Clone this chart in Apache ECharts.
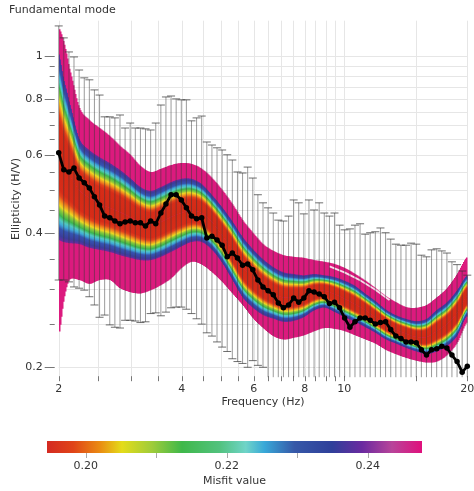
<!DOCTYPE html>
<html><head><meta charset="utf-8">
<script src="https://cdn.jsdelivr.net/npm/echarts@6/dist/echarts.min.js"></script>
<style>html,body{margin:0;padding:0;background:#fff}#c{width:474px;height:491px}</style>
</head><body><div id="c"></div>
<script>
// ---------- data ----------
const freqs = [2.000,2.058,2.119,2.180,2.244,2.310,2.377,2.446,2.518,2.591,
 2.667,2.745,2.825,2.908,2.992,3.080,3.170,3.262,3.358,3.456,
 3.557,3.660,3.767,3.877,3.991,4.107,4.227,4.350,4.477,4.608,
 4.743,4.881,5.024,5.170,5.321,5.477,5.637,5.801,5.971,6.145,
 6.325,6.508,6.701,6.894,7.096,7.305,7.517,7.735,7.962,8.194,
 8.434,8.680,8.933,9.196,9.462,9.740,10.02,10.32,10.62,10.93,
 11.25,11.57,11.91,12.26,12.62,12.99,13.37,13.76,14.16,14.57,
 15.00,15.44,15.89,16.35,16.83,17.32,17.83,18.34,18.88,19.43,20.00];
const meanHV = [0.606,0.555,0.549,0.560,0.532,0.519,0.505,0.483,0.463,0.437,
 0.433,0.426,0.420,0.424,0.426,0.422,0.422,0.415,0.426,0.420,
 0.444,0.465,0.488,0.488,0.475,0.456,0.437,0.431,0.433,0.390,
 0.394,0.386,0.376,0.354,0.361,0.352,0.339,0.341,0.331,0.314,
 0.303,0.297,0.291,0.279,0.272,0.276,0.286,0.280,0.286,0.297,
 0.295,0.292,0.288,0.278,0.280,0.272,0.258,0.246,0.253,0.258,
 0.258,0.255,0.250,0.252,0.253,0.243,0.235,0.232,0.228,0.228,
 0.227,0.219,0.213,0.219,0.220,0.223,0.221,0.213,0.206,0.195,0.201];
const upperHV = [1.168,1.098,1.021,0.995,0.930,0.893,0.884,0.839,0.817,0.730,
 0.730,0.726,0.737,0.689,0.707,0.689,0.689,0.686,0.682,0.707,
 0.776,0.809,0.813,0.801,0.797,0.797,0.715,0.726,0.733,0.641,
 0.631,0.622,0.615,0.600,0.584,0.549,0.546,0.563,0.532,0.488,
 0.468,0.456,0.444,0.428,0.426,0.437,0.475,0.468,0.442,0.475,
 0.451,0.468,0.444,0.437,0.444,0.417,0.407,0.409,0.417,0.420,
 0.398,0.401,0.403,0.411,0.401,0.388,0.378,0.376,0.376,0.380,
 0.378,0.357,0.354,0.367,0.369,0.365,0.361,0.345,0.340,0.329,0.322];
const lowerHV = [0.314,0.314,0.311,0.303,0.301,0.298,0.288,0.276,0.259,0.262,
 0.249,0.246,0.245,0.255,0.255,0.254,0.252,0.253,0.264,0.265,
 0.261,0.266,0.272,0.273,0.273,0.270,0.264,0.257,0.250,0.239,
 0.235,0.228,0.222,0.217,0.209,0.206,0.204,0.200,0.207,0.202,
 0.200,0.186,0.184,0.182,0.174,0.174,0.172,0.168,0.185,0.186,
 0.184,0.182,0.187,0.177,0.177,0.177,0.164,0.148,0.153,0.158,
 0.167,0.162,0.155,0.155,0.160,0.152,0.146,0.143,0.138,0.137,
 0.136,0.134,0.128,0.131,0.131,0.136,0.135,0.132,0.125,0.116,0.125];

const bandFreq = [2.000,2.058,2.119,2.244,2.377,2.518,2.667,2.825,2.992,3.170,3.358,3.557,3.767,3.991,4.227,4.477,4.743,5.024,5.321,5.637,5.971,6.325,6.701,7.096,7.517,7.962,8.434,8.933,9.462,10.02,10.62,11.25,11.91,12.62,13.37,14.16,15.00,15.89,16.83,17.83,18.88,20.00];
const bandOuterTop = [1.156,1.075,0.945,0.768,0.718,0.689,0.661,0.628,0.600,0.566,0.549,0.558,0.569,0.575,0.572,0.558,0.532,0.500,0.465,0.428,0.401,0.378,0.365,0.357,0.354,0.352,0.348,0.345,0.341,0.334,0.324,0.313,0.301,0.289,0.280,0.273,0.272,0.276,0.287,0.301,0.324,0.354];
const bandInnerTop = [1.021,0.893,0.797,0.655,0.615,0.593,0.575,0.555,0.532,0.508,0.498,0.508,0.521,0.530,0.530,0.516,0.488,0.458,0.426,0.393,0.369,0.350,0.336,0.327,0.324,0.322,0.324,0.322,0.319,0.313,0.305,0.293,0.282,0.270,0.262,0.257,0.254,0.257,0.269,0.280,0.298,0.322];
const bandCenter = [0.584,0.560,0.540,0.500,0.480,0.465,0.456,0.446,0.435,0.424,0.417,0.424,0.435,0.444,0.449,0.444,0.424,0.396,0.367,0.336,0.317,0.303,0.293,0.287,0.287,0.289,0.295,0.297,0.292,0.285,0.277,0.269,0.259,0.250,0.243,0.238,0.234,0.234,0.241,0.250,0.265,0.289];
const bandInnerBottom = [0.386,0.382,0.380,0.378,0.371,0.367,0.363,0.357,0.352,0.348,0.348,0.354,0.363,0.373,0.382,0.382,0.367,0.343,0.314,0.287,0.272,0.262,0.257,0.253,0.254,0.259,0.268,0.272,0.266,0.259,0.253,0.246,0.239,0.231,0.226,0.221,0.217,0.214,0.217,0.223,0.235,0.261];
const bandOuterBottom = [0.236,0.283,0.314,0.314,0.308,0.314,0.314,0.301,0.295,0.293,0.298,0.306,0.317,0.334,0.345,0.340,0.327,0.311,0.293,0.276,0.258,0.245,0.235,0.231,0.233,0.236,0.241,0.245,0.244,0.241,0.236,0.231,0.226,0.219,0.214,0.210,0.207,0.205,0.206,0.213,0.227,0.253];

const streakFreq = [9.2, 10.9, 12.9];
const streakHV = [0.337, 0.314, 0.283];

const xLabelValues = [2, 4, 6, 8, 10, 20];
const xTickValues = [2,2.5,3,3.5,4,4.5,5,5.5,6,6.5,7,7.5,8,8.5,9,9.5,10,15,20];
const yLabelValues = [0.2, 0.4, 0.6, 0.8, 1];
const yTickValues = [0.2,0.25,0.3,0.35,0.4,0.45,0.5,0.55,0.6,0.65,0.7,0.75,0.8,0.85,0.9,0.95,1.0];
const misfitRange = [0.1945, 0.2477];
const misfitLabels = [0.20, 0.22, 0.24];
const misfitTicks = [0.20, 0.21, 0.22, 0.23, 0.24];

// ---------- drawing ----------
const X0 = 2, X1 = 20, Y0 = 0.19, Y1 = 1.2;
const FONT = '11px "DejaVu Sans", Verdana, sans-serif';
const TXT = '#333333';
const MAGENTA = '#dc1a7e';

const innerStops = [
  {offset:0, color:'#6e2a9e'},
  {offset:0.06, color:'#3b3d9c'},
  {offset:0.15, color:'#3553b0'},
  {offset:0.21, color:'#40a8d8'},
  {offset:0.26, color:'#50c8c0'},
  {offset:0.32, color:'#3cb54c'},
  {offset:0.39, color:'#8cc83a'},
  {offset:0.44, color:'#ecd622'},
  {offset:0.50, color:'#f2921e'},
  {offset:0.57, color:'#e2421b'},
  {offset:0.64, color:'#d72c18'},
  {offset:1, color:'#d32a16'}];
const innerStopsRev = innerStops.map(s => ({offset: 1 - s.offset, color: s.color})).reverse();
const misfitStops = [
  {offset:0, color:'#d42a22'},
  {offset:0.07, color:'#e04418'},
  {offset:0.14, color:'#ea8a12'},
  {offset:0.2, color:'#e4dc1a'},
  {offset:0.28, color:'#9fcc3a'},
  {offset:0.36, color:'#3fb84a'},
  {offset:0.46, color:'#52c27e'},
  {offset:0.53, color:'#6fd4c8'},
  {offset:0.58, color:'#38a8d8'},
  {offset:0.66, color:'#3658a8'},
  {offset:0.76, color:'#2f3f9a'},
  {offset:0.84, color:'#6a2aa0'},
  {offset:0.92, color:'#b8449a'},
  {offset:1, color:'#e0107c'}];

function cr(p0, p1, p2, p3, t) {
  const t2 = t * t, t3 = t2 * t;
  return 0.5 * ((2 * p1) + (-p0 + p2) * t + (2 * p0 - 5 * p1 + 4 * p2 - p3) * t2 + (-p0 + 3 * p1 - 3 * p2 + p3) * t3);
}

function bandItem(params, api) {
  const i = params.dataIndex, n = bandFreq.length;
  if (i >= n - 1) return null;
  const arrs = [bandOuterTop, bandInnerTop, bandCenter, bandInnerBottom, bandOuterBottom];
  const idx = [Math.max(i - 1, 0), i, i + 1, Math.min(i + 2, n - 1)];
  const pts = idx.map(k => arrs.map(a => api.coord([bandFreq[k], a[k]])));
  const xa = pts[1][0][0], xb = pts[2][0][0];
  const children = [];
  const xs = Math.round(xa), xe = Math.round(xb);
  for (let px = xs; px < xe; px++) {
    const t = Math.min(1, Math.max(0, (px + 0.5 - xa) / (xb - xa)));
    const ys = arrs.map((_, m) => cr(pts[0][m][1], pts[1][m][1], pts[2][m][1], pts[3][m][1], t));
    children.push({type:'rect', shape:{x:px, y:ys[0], width:1.5, height:Math.max(0, ys[4] - ys[0])}, style:{fill:MAGENTA}});
    children.push({type:'rect', shape:{x:px, y:ys[1], width:1.5, height:Math.max(0.5, ys[2] - ys[1])},
      style:{fill:{type:'linear', x:0, y:0, x2:0, y2:1, colorStops:innerStops}}});
    children.push({type:'rect', shape:{x:px, y:ys[2], width:1.5, height:Math.max(0.5, ys[3] - ys[2])},
      style:{fill:{type:'linear', x:0, y:0, x2:0, y2:1, colorStops:innerStopsRev}}});
  }
  return {type:'group', children};
}

function errItem(params, api) {
  const f = api.value(0), lo = api.value(1), hi = api.value(2);
  const pHi = api.coord([f, Math.min(hi, Y1)]), pLo = api.coord([f, Math.max(lo, Y0)]);
  const x = pHi[0];
  const ch = [{type:'line', shape:{x1:x, y1:pHi[1], x2:x, y2:pLo[1]}, style:{stroke:'rgba(55,55,55,0.5)', lineWidth:1}}];
  if (hi <= Y1) ch.push({type:'line', shape:{x1:x - 4, y1:pHi[1], x2:x + 4, y2:pHi[1]}, style:{stroke:'rgba(50,50,50,0.7)', lineWidth:1}});
  if (lo >= Y0) ch.push({type:'line', shape:{x1:x - 4, y1:pLo[1], x2:x + 4, y2:pLo[1]}, style:{stroke:'rgba(50,50,50,0.7)', lineWidth:1}});
  return {type:'group', children:ch};
}

function axesItem(params, api) {
  const ch = [];
  const top = api.coord([X0, Y1])[1], bot = api.coord([X0, Y0])[1];
  const left = api.coord([X0, Y0])[0], right = api.coord([X1, Y0])[0];
  xTickValues.forEach(v => {
    const x = Math.round(api.coord([v, Y0])[0]) + 0.5;
    ch.push({type:'line', shape:{x1:x, y1:top, x2:x, y2:bot}, style:{stroke:'#e6e6e6', lineWidth:1}});
    ch.push({type:'line', shape:{x1:x, y1:bot - 1, x2:x, y2:bot + 4}, style:{stroke:'#777', lineWidth:1}});
  });
  yTickValues.forEach(v => {
    const y = Math.round(api.coord([X0, v])[1]) + 0.5;
    ch.push({type:'line', shape:{x1:left, y1:y, x2:right, y2:y}, style:{stroke:'#e6e6e6', lineWidth:1}});
    const major = yLabelValues.some(m => Math.abs(m - v) < 1e-9);
    ch.push({type:'line', shape:{x1:left - (major ? 14 : 9), y1:y, x2:left - 4, y2:y}, style:{stroke:'#777', lineWidth:1}});
  });
  xLabelValues.forEach(v => {
    const x = api.coord([v, Y0])[0];
    ch.push({type:'text', style:{text:String(v), x:x, y:bot + 6, align:'center', verticalAlign:'top', font:FONT, fill:TXT}});
  });
  yLabelValues.forEach(v => {
    const y = api.coord([X0, v])[1];
    ch.push({type:'text', style:{text:String(v), x:left - 16, y:y, align:'right', verticalAlign:'middle', font:FONT, fill:TXT}});
  });
  return {type:'group', children:ch};
}

function colorbarItem(params, api) {
  const p0 = api.coord([misfitRange[0], 1]), p1 = api.coord([misfitRange[1], 0]);
  const ch = [{type:'rect', shape:{x:p0[0], y:p0[1], width:p1[0] - p0[0], height:p1[1] - p0[1]},
    style:{fill:{type:'linear', x:0, y:0, x2:1, y2:0, colorStops:misfitStops}}}];
  misfitTicks.forEach(v => {
    const x = Math.round(api.coord([v, 0])[0]) + 0.5;
    ch.push({type:'line', shape:{x1:x, y1:p1[1], x2:x, y2:p1[1] + 5}, style:{stroke:'#aaa', lineWidth:1}});
  });
  misfitLabels.forEach(v => {
    const x = api.coord([v, 0])[0];
    ch.push({type:'text', style:{text:v.toFixed(2), x:x, y:p1[1] + 8, align:'center', verticalAlign:'top', font:FONT, fill:TXT}});
  });
  return {type:'group', children:ch};
}

const chart = echarts.init(document.getElementById('c'));
chart.setOption({
  animation: false,
  backgroundColor: '#fff',
  title: {text:'Fundamental mode', left:9, top:5, padding:0,
    textStyle:{fontSize:11, fontWeight:'normal', color:TXT, fontFamily:'"DejaVu Sans", Verdana, sans-serif'}},
  grid: [
    {left:58.7, right:6.7, top:20.7, bottom:113.8},
    {left:47, right:52, top:441, height:12}
  ],
  xAxis: [
    {type:'log', logBase:10, min:X0, max:X1, gridIndex:0,
      name:'Frequency (Hz)', nameLocation:'middle', nameGap:19,
      nameTextStyle:{fontSize:11, color:TXT, fontFamily:'"DejaVu Sans", Verdana, sans-serif'},
      axisLine:{show:false}, axisTick:{show:false}, axisLabel:{show:false}, splitLine:{show:false}},
    {type:'value', min:misfitRange[0], max:misfitRange[1], gridIndex:1,
      name:'Misfit value', nameLocation:'middle', nameGap:23,
      nameTextStyle:{fontSize:11, color:TXT, fontFamily:'"DejaVu Sans", Verdana, sans-serif'},
      axisLine:{show:false}, axisTick:{show:false}, axisLabel:{show:false}, splitLine:{show:false}}
  ],
  yAxis: [
    {type:'log', logBase:10, min:Y0, max:Y1, gridIndex:0,
      name:'Ellipticity (H/V)', nameLocation:'middle', nameGap:37, nameRotate:90,
      nameTextStyle:{fontSize:11, color:TXT, fontFamily:'"DejaVu Sans", Verdana, sans-serif'},
      axisLine:{show:false}, axisTick:{show:false}, axisLabel:{show:false}, splitLine:{show:false}},
    {type:'value', min:0, max:1, gridIndex:1, show:false}
  ],
  series: [
    {type:'custom', name:'axes', xAxisIndex:0, yAxisIndex:0, z:1, silent:true,
      data:[[X0, Y0]], renderItem:axesItem},
    {type:'custom', name:'models', xAxisIndex:0, yAxisIndex:0, z:2, silent:true,
      encode:{x:0, y:1},
      data: bandFreq.map((f, i) => [f, bandOuterTop[i], bandInnerTop[i], bandCenter[i], bandInnerBottom[i], bandOuterBottom[i]]),
      renderItem:bandItem},
    {type:'line', name:'streak', xAxisIndex:0, yAxisIndex:0, z:3, silent:true, smooth:true, symbol:'none',
      lineStyle:{color:'rgba(255,255,255,0.85)', width:1.8},
      data: streakFreq.map((f, i) => [f, streakHV[i]])},
    {type:'custom', name:'std', xAxisIndex:0, yAxisIndex:0, z:4, silent:true,
      encode:{x:0, y:[1, 2]},
      data: freqs.map((f, i) => [f, lowerHV[i], upperHV[i]]),
      renderItem:errItem},
    {type:'line', name:'measured', xAxisIndex:0, yAxisIndex:0, z:5, silent:true,
      symbol:'circle', symbolSize:5.5, showSymbol:true,
      lineStyle:{color:'#000', width:2.8}, itemStyle:{color:'#000'},
      data: freqs.map((f, i) => [f, meanHV[i]])},
    {type:'custom', name:'colorbar', xAxisIndex:1, yAxisIndex:1, z:2, silent:true,
      data:[[misfitRange[0], 0]], renderItem:colorbarItem}
  ]
});
</script>
</body></html>
